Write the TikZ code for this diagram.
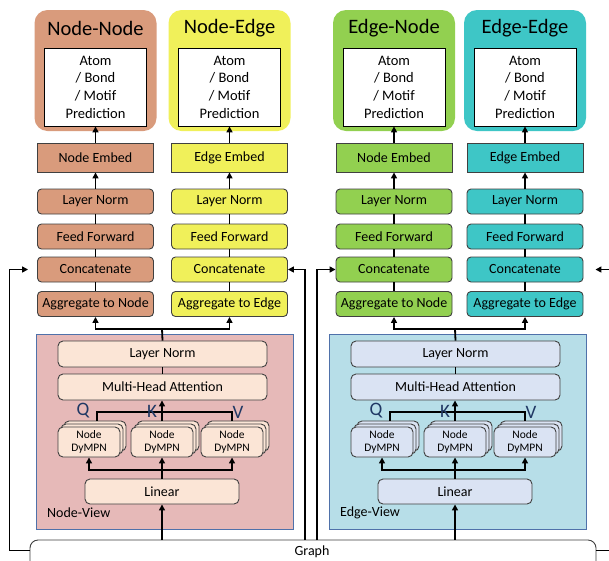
\documentclass[tikz,border=0pt]{standalone}
\usepackage{fontspec}
\setmainfont{Carlito}
\usetikzlibrary{arrows.meta,calc}

\definecolor{nnfill}{RGB}{217,155,124}
\definecolor{nefill}{RGB}{240,240,90}
\definecolor{enfill}{RGB}{146,208,80}
\definecolor{eefill}{RGB}{62,198,198}
\definecolor{nvfill}{RGB}{230,185,184}
\definecolor{nvinner}{RGB}{251,229,214}
\definecolor{evfill}{RGB}{183,222,232}
\definecolor{evinner}{RGB}{218,227,243}
\definecolor{viewline}{RGB}{79,113,170}
\definecolor{boxline}{RGB}{64,64,64}
\definecolor{qkvblue}{RGB}{32,56,100}

\tikzset{
  hdr/.style={rounded corners=13pt, minimum width=122pt, minimum height=121pt, inner sep=0pt},
  ttl/.style={font=\fontsize{20.5}{24}\selectfont, inner sep=0pt},
  pred/.style={draw=black, line width=0.8pt, fill=white, minimum width=102pt,
    minimum height=78pt, align=center, font=\fontsize{14.5}{17.7}\selectfont, inner sep=0pt},
  emb/.style={draw=boxline, line width=0.9pt, minimum width=116pt, minimum height=29pt,
    font=\fontsize{14}{16}\selectfont, inner sep=0pt},
  blk/.style={emb, rounded corners=4pt, minimum height=25pt},
  vblk/.style={draw=boxline, line width=0.9pt, rounded corners=5pt, minimum height=26pt,
    font=\fontsize{14}{16}\selectfont, inner sep=0pt},
  dym/.style={draw=boxline, line width=0.9pt, rounded corners=5pt, minimum width=62pt,
    minimum height=30pt, align=center, font=\fontsize{11.5}{13}\selectfont, inner sep=0pt},
  view/.style={draw=viewline, line width=0.8pt, minimum width=257pt, minimum height=195pt, inner sep=0pt},
  qkv/.style={font=\fontsize{19}{22}\selectfont, text=qkvblue, inner sep=0pt},
  vlabel/.style={anchor=west, font=\fontsize{14}{16}\selectfont, inner sep=0pt},
  link/.style={line width=1.8pt, black},
  arr/.style={link, -{Triangle[length=6pt,width=6pt]}},
}

% one output column: header, prediction box and the stack below it
\newcommand\drawcol[6]{%
  \node[hdr, fill=#3] (#1h) at (#2,70.5) {};
  \node[ttl] (#1t) at (#2,28) {#4};
  \node[pred] (#1p) at (#2,87) {Atom\\/ Bond\\/ Motif\\Prediction};
  \node[emb, fill=#3] (#1e) at (#2,157.5) {#5};
  \node[blk, fill=#3] (#1ln) at (#2,201.5) {Layer Norm};
  \node[blk, fill=#3] (#1ff) at (#2,236.5) {Feed Forward};
  \node[blk, fill=#3] (#1cc) at (#2,269.5) {Concatenate};
  \node[blk, fill=#3] (#1ag) at (#2,304) {#6};
  \draw[arr] (#1e.north) -- (#1p.south);
  \draw[arr] (#1ln.north) -- (#1e.south);
  \draw[link] (#1ln.south) -- (#1ff.north);
  \draw[link] (#1ff.south) -- (#1cc.north);
  \draw[link] (#1cc.south) -- (#1ag.north);
}

% one attention view block
\newcommand\drawview[5]{%
  \begin{scope}[xshift=#2pt]
    \node[view, fill=#3] (#1box) at (164.5,431.5) {};
    \node[vblk, fill=#4, minimum width=209pt] (#1ln) at (162.5,354) {Layer Norm};
    \node[vblk, fill=#4, minimum width=209pt] (#1mha) at (162.5,387) {Multi-Head Attention};
    \foreach \cx/\nm in {89/a,162/b,232/c}{
      \foreach \o in {6,3}{\node[dym, fill=#4] (#1d\nm\o) at (\cx+\o,442-\o) {};}
      \node[dym, fill=#4] (#1d\nm) at (\cx,442) {Node\\DyMPN};
    }
    \node[vblk, fill=#4, minimum width=154pt, minimum height=25pt] (#1lin) at (162,491.5) {Linear};
    \node[vlabel] (#1lab) at (47,513) {#5};
    \coordinate (#1qkv) at (162,412);
    \coordinate (#1low) at (162,470);
    \coordinate (#1top) at (162,329);
    \draw[link] ([xshift=2pt]#1da6.north) |- (#1qkv) -| ([xshift=-6pt]#1dc6.north);
    \draw[arr] (#1qkv) ++(0,9) -- (#1qkv |- #1mha.south);
    \node[qkv] (#1q) at (83,411) {Q};
    \node[qkv] (#1k) at (152,411) {K};
    \node[qkv] (#1v) at (238,412) {V};
    \draw[link] (#1lin.north) -- (#1low);
    \draw[arr] (#1low) -| (#1da.south);
    \draw[arr] (#1low) -- (#1low |- #1db.south);
    \draw[arr] (#1low) -| (#1dc.south);
    \draw[link] (#1ln.north) -- (#1top);
    \draw[link] (#1ln.south) -- (#1mha.north);
  \end{scope}
}

\begin{document}
\begin{tikzpicture}[x=1pt,y=-1pt]
  \useasboundingbox (0,0) rectangle (609,560);
  \fill[white] (0,0) rectangle (609,560);

  \drawcol{nn}{95.5}{nnfill}{Node-Node}{Node Embed}{Aggregate to Node}
  \drawcol{ne}{229.5}{nefill}{Node-Edge}{Edge Embed}{Aggregate to Edge}
  \drawcol{en}{394}{enfill}{Edge-Node}{Node Embed}{Aggregate to Node}
  \drawcol{ee}{525}{eefill}{Edge-Edge}{Edge Embed}{Aggregate to Edge}

  \drawview{nv}{0}{nvfill}{nvinner}{Node-View}
  \drawview{ev}{293}{evfill}{evinner}{Edge-View}

  % view outputs fan out to the aggregation boxes
  \draw[arr] (nvtop) -| (nnag.south);
  \draw[arr] (nvtop) -| (neag.south);
  \draw[arr] (evtop) -| (enag.south);
  \draw[arr] (evtop) -| (eeag.south);

  % graph input
  \node[draw=boxline, line width=0.9pt, fill=white, rounded corners=8pt,
        minimum width=566pt, minimum height=40pt, inner sep=0pt] (graph) at (313,560) {};
  \node[font=\fontsize{14}{16}\selectfont, inner sep=0pt] (graphlab) at (312,552) {Graph};

  \draw[arr] (graph.north -| nvlin.south) -- (nvlin.south);
  \draw[arr] (graph.north -| evlin.south) -- (evlin.south);

  % skip connections from the graph to the concatenation steps
  \coordinate (gm1) at (305,540);
  \coordinate (gm2) at (317,540);
  \draw[arr] ([yshift=-11pt]graph.north west) -- ++(-20,0) |- ([xshift=-9pt]nncc.west);
  \draw[arr] (gm1) |- (necc.east);
  \draw[arr] (gm2) |- (encc.west);
  \draw[arr] ([yshift=-11pt]graph.north east) -- ++(20,0) |- ([xshift=12pt]eecc.east);
\end{tikzpicture}
\end{document}
